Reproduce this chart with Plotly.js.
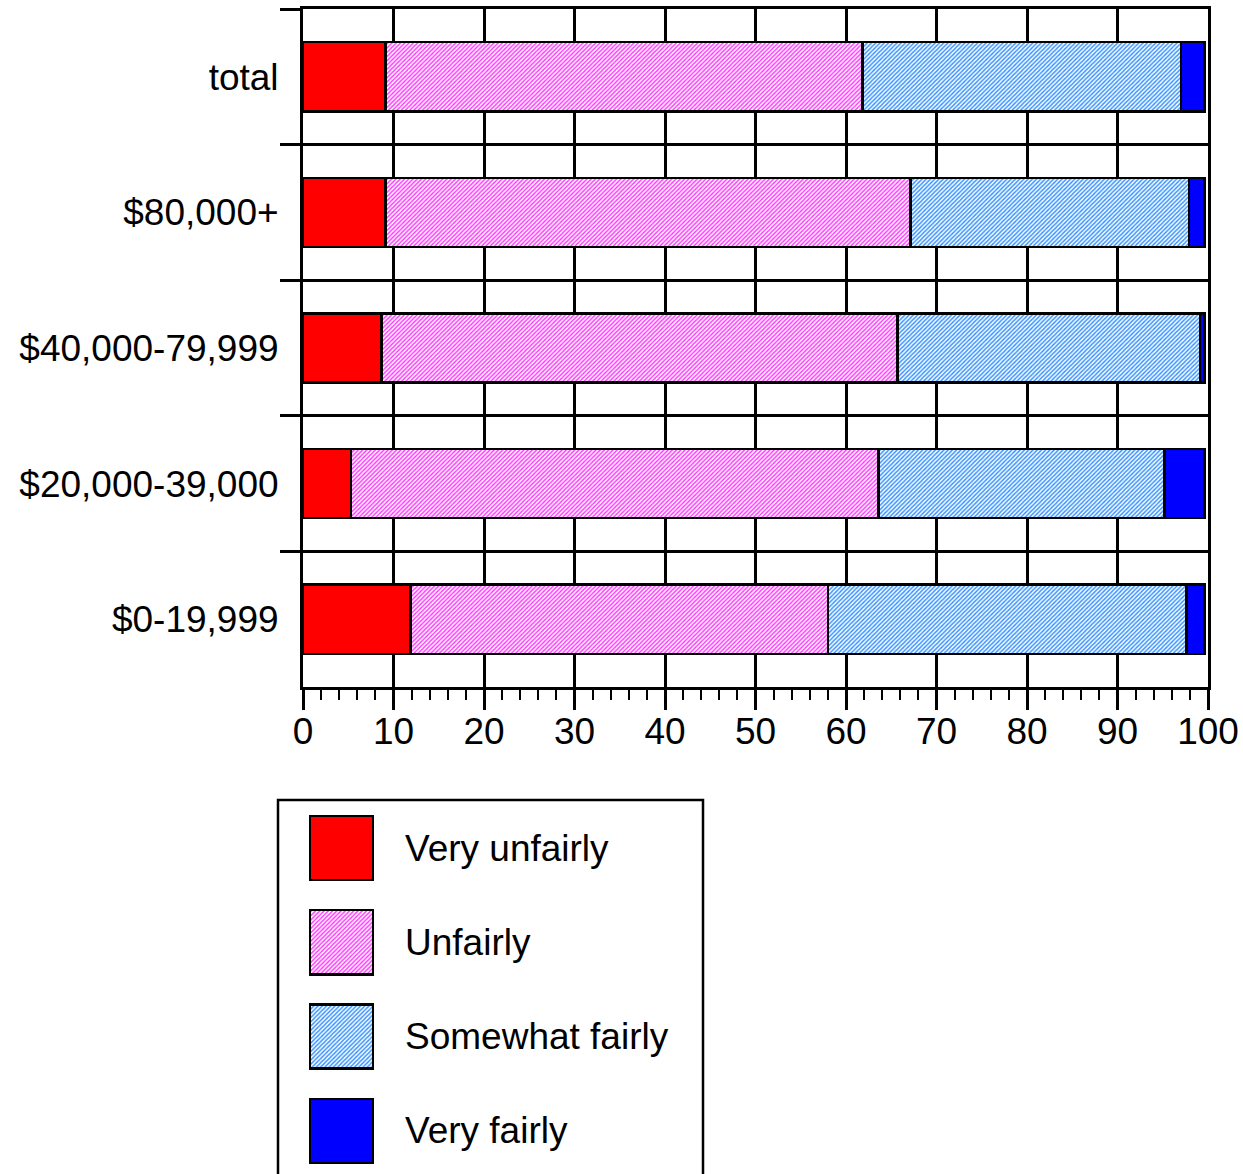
<!DOCTYPE html>
<html>
<head>
<meta charset="utf-8">
<script src="https://cdn.plot.ly/plotly-3.0.1.min.js"></script>
<style>
  html, body { margin: 0; padding: 0; background: #ffffff; }
  #chart { width: 1243px; height: 1174px; }
</style>
</head>
<body>
<div id="chart"></div>
<script>
// ---- data ----
const categories = ["total", "$80,000+", "$40,000-79,999", "$20,000-39,000", "$0-19,999"];
const seriesNames = ["Very unfairly", "Unfairly", "Somewhat fairly", "Very fairly"];
const veryUnfairly   = [9.1, 9.1, 8.7, 5.3, 11.9];
const unfairly       = [52.7, 58.0, 57.0, 58.3, 46.1];
const somewhatFairly = [35.2, 30.8, 33.4, 31.6, 39.6];
const veryFairly     = [2.6, 1.7, 0.5, 4.4, 2.0];
const xTickVals = [0, 10, 20, 30, 40, 50, 60, 70, 80, 90, 100];

// ---- styles ----
const seriesValues = [veryUnfairly, unfairly, somewhatFairly, veryFairly];
const styles = [
  { color: "#ff0000", shape: "", fg: "#ff0000", bg: "#ff0000" },
  { color: "#ffffff", shape: "/", fg: "#ff3cff", bg: "#ffffff" },
  { color: "#ffffff", shape: "/", fg: "#3a94ff", bg: "#ffffff" },
  { color: "#0000ff", shape: "", fg: "#0000ff", bg: "#0000ff" }
];
const FONT = "Liberation Sans, Arial, Helvetica, sans-serif";

function markerFor(s) {
  const m = {
    color: s.color,
    line: { color: "#000000", width: 2.5 }
  };
  if (s.shape) {
    m.pattern = {
      shape: s.shape,
      fgcolor: s.fg,
      bgcolor: s.bg,
      size: 3,
      solidity: 0.5,
      fillmode: "replace"
    };
  }
  return m;
}

const traces = seriesValues.map((vals, i) => ({
  type: "bar",
  orientation: "h",
  name: seriesNames[i],
  y: categories,
  x: vals,
  xaxis: "x",
  yaxis: "y",
  showlegend: false,
  hoverinfo: "x+y+name",
  marker: markerFor(styles[i])
}));

// legend swatches drawn as bars on their own hidden axes
seriesNames.forEach((n, i) => {
  traces.push({
    type: "bar",
    orientation: "h",
    y: [n],
    x: [63],
    width: 0.68,
    xaxis: "x2",
    yaxis: "y2",
    showlegend: false,
    hoverinfo: "skip",
    marker: markerFor(styles[i])
  });
});

const W = 1243, H = 1174;
const layout = {
  width: W,
  height: H,
  margin: { l: 0, r: 0, t: 0, b: 0, pad: 0 },
  paper_bgcolor: "#ffffff",
  plot_bgcolor: "#ffffff",
  font: { family: FONT, color: "#000000", size: 36 },
  barmode: "stack",
  bargap: 0.49,
  showlegend: false,
  xaxis: {
    domain: [303 / W, 1208 / W],
    range: [0, 100],
    tickmode: "array",
    tickvals: xTickVals,
    ticks: "outside",
    ticklen: 20,
    tickwidth: 3,
    tickcolor: "#000000",
    ticklabelstandoff: -10,
    showgrid: true,
    gridcolor: "#000000",
    gridwidth: 3,
    zeroline: false,
    showline: true,
    linecolor: "#000000",
    linewidth: 3,
    mirror: true,
    tickfont: { family: FONT, size: 37, color: "#000000" },
    minor: { dtick: 2, ticks: "outside", ticklen: 10, tickwidth: 2, tickcolor: "#000000", showgrid: false },
    fixedrange: true
  },
  yaxis: {
    domain: [(H - 687) / H, (H - 9) / H],
    type: "category",
    categoryorder: "array",
    categoryarray: categories,
    range: [4.5, -0.5],
    tickson: "boundaries",
    ticks: "outside",
    ticklen: 20,
    tickwidth: 3,
    tickcolor: "#000000",
    ticklabelstandoff: 14,
    showgrid: true,
    gridcolor: "#000000",
    gridwidth: 3,
    showline: true,
    linecolor: "#000000",
    linewidth: 3,
    mirror: true,
    tickfont: { family: FONT, size: 37, color: "#000000" },
    fixedrange: true
  },
  xaxis2: {
    domain: [278 / W, 703 / W],
    anchor: "y2",
    range: [-32, 393],
    visible: false,
    fixedrange: true
  },
  yaxis2: {
    domain: [0, (H - 800) / H],
    anchor: "x2",
    type: "category",
    categoryorder: "array",
    categoryarray: seriesNames,
    range: [3.457, -0.509],
    visible: false,
    fixedrange: true
  },
  shapes: [
    {
      type: "rect",
      xref: "x2 domain", yref: "y2 domain",
      x0: 0, x1: 1, y0: -0.1, y1: 1,
      line: { color: "#000000", width: 2.5 },
      fillcolor: "rgba(0,0,0,0)",
      layer: "below"
    }
  ],
  annotations: seriesNames.map(n => ({
    xref: "x2", yref: "y2",
    x: 93, y: n,
    text: n,
    showarrow: false,
    xanchor: "left",
    yanchor: "middle",
    font: { family: FONT, size: 37, color: "#000000" }
  }))
};

Plotly.newPlot("chart", traces, layout, { displayModeBar: false, staticPlot: true });
</script>
</body>
</html>
